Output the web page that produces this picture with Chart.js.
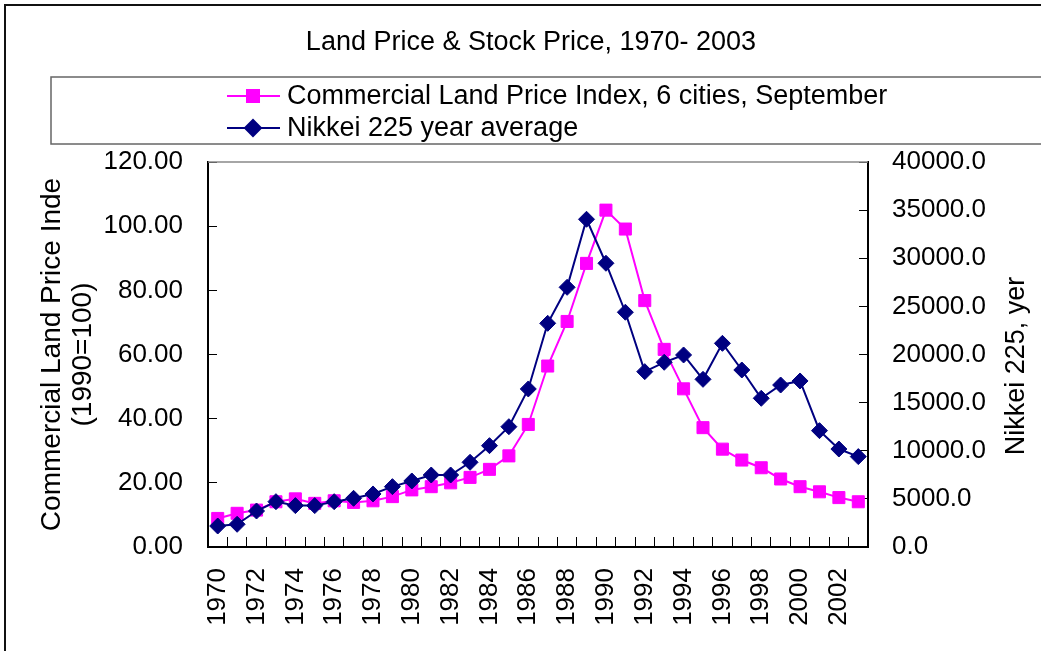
<!DOCTYPE html>
<html>
<head>
<meta charset="utf-8">
<script src="https://cdn.jsdelivr.net/npm/chart.js@4.4.1/dist/chart.umd.min.js"></script>
<style>
  body { margin: 0; background: #fff; }
  #wrap { width: 1041px; height: 651px; position: relative; }
</style>
</head>
<body>
<div id="wrap"><canvas id="landStock"></canvas></div>
<script>
const years = ['1970', '1971', '1972', '1973', '1974', '1975', '1976', '1977', '1978', '1979',
    '1980', '1981', '1982', '1983', '1984', '1985', '1986', '1987', '1988', '1989',
    '1990', '1991', '1992', '1993', '1994', '1995', '1996', '1997', '1998', '1999',
    '2000', '2001', '2002', '2003'];

// Commercial land price index, 6 cities, September (1990=100)
const landIndex = [8.9, 10.5, 11.5, 14.1, 15.0, 13.6, 14.4, 13.9, 14.4, 15.7,
    17.8, 18.8, 20.0, 21.7, 24.2, 28.4, 38.2, 56.4, 70.3, 88.4,
    105.0, 99.1, 76.8, 61.6, 49.3, 37.2, 30.5, 27.1, 24.7, 21.2,
    18.8, 17.2, 15.4, 14.1];

// Nikkei 225 year average, yen
const nikkei = [2180, 2360, 3740, 4710, 4300, 4300, 4710, 5060, 5510, 6270,
    6860, 7480, 7480, 8800, 10530, 12500, 16420, 23240, 26980, 34050,
    29480, 24390, 18220, 19190, 19950, 17420, 21160, 18390, 15450, 16830,
    17250, 12090, 10180, 9390];

const titleText = 'Land Price & Stock Price, 1970- 2003';
const legendLabels = ['Commercial Land Price Index, 6 cities, September', 'Nikkei 225 year average'];
const leftTitle = ['Commercial Land Price Inde', '(1990=100)'];
const rightTitle = 'Nikkei 225, yer';

const FONT = '"Liberation Sans", Arial, sans-serif';
const PINK = '#FF00FF';
const NAVY = '#000080';

// title, legend box, frame and right axis title
const decorations = {
    id: 'decorations',
    afterDraw(chart) {
        const c = chart.ctx;
        const area = chart.chartArea;
        c.save();
        // outer frame
        c.strokeStyle = '#111';
        c.lineWidth = 2;
        c.strokeRect(5, 5, 1200, 1200);

        // chart title
        c.fillStyle = '#000';
        c.font = '27px ' + FONT;
        c.textAlign = 'center';
        c.textBaseline = 'middle';
        c.fillText(titleText, 531, 43);

        // legend
        c.strokeStyle = '#666';
        c.lineWidth = 1.5;
        c.strokeRect(51, 77, 1200, 67);
        const colors = [PINK, NAVY];
        const styles = ['rect', 'rectRot'];
        const rows = [96, 128];
        for (let i = 0; i < 2; i++) {
            c.strokeStyle = colors[i];
            c.lineWidth = 2;
            c.beginPath();
            c.moveTo(227, rows[i]);
            c.lineTo(280, rows[i]);
            c.stroke();
            c.fillStyle = colors[i];
            Chart.helpers.drawPoint(c, {pointStyle: styles[i], radius: i === 0 ? 8.5 : 8, borderWidth: 1}, 253, rows[i]);
            c.fillStyle = '#000';
            c.textAlign = 'left';
            c.font = '27px ' + FONT;
            c.fillText(legendLabels[i], 287, rows[i] + 1);
        }

        // top edge of the plot
        c.strokeStyle = '#888';
        c.lineWidth = 1.5;
        c.beginPath();
        c.moveTo(area.left, area.top);
        c.lineTo(area.right, area.top);
        c.stroke();

        // right axis title
        c.translate(1017, 366);
        c.rotate(-Math.PI / 2);
        c.fillStyle = '#000';
        c.font = '27px ' + FONT;
        c.textAlign = 'center';
        c.fillText(rightTitle, 0, 0);
        c.restore();
    }
};

const ctx_land = document.getElementById('landStock');
new Chart(ctx_land, {
    type: 'line',
    data: {
        labels: years,
        datasets: [
            {
                label: legendLabels[0],
                data: landIndex,
                yAxisID: 'yLand',
                borderColor: PINK,
                backgroundColor: PINK,
                borderWidth: 2,
                pointStyle: 'rect',
                pointRadius: 8.5,
                pointBorderWidth: 1,
                tension: 0,
                order: 1
            },
            {
                label: legendLabels[1],
                data: nikkei,
                yAxisID: 'yNikkei',
                borderColor: NAVY,
                backgroundColor: NAVY,
                borderWidth: 2,
                pointStyle: 'rectRot',
                pointRadius: 8,
                pointBorderWidth: 1,
                tension: 0,
                order: 0
            }
        ]
    },
    options: {
        responsive: true,
        maintainAspectRatio: false,
        animation: false,
        layout: { padding: { top: 162, left: 0, right: 0, bottom: 0 } },
        plugins: {
            legend: { display: false },
            title: { display: false },
            tooltip: { enabled: false }
        },
        scales: {
            x: {
                type: 'category',
                offset: true,
                grid: {
                    offset: true,
                    drawOnChartArea: false,
                    drawTicks: true,
                    tickLength: -10,
                    color: '#000',
                    tickColor: '#000'
                },
                border: { color: '#000', width: 2 },
                ticks: {
                    autoSkip: false,
                    minRotation: 90,
                    maxRotation: 90,
                    padding: 31,
                    color: '#000',
                    font: { family: FONT, size: 26 },
                    callback: (val, i) => (i % 2 === 0 ? years[i] : '')
                },
                afterFit: (scale) => { scale.height = 104; }
            },
            yLand: {
                position: 'left',
                min: 0,
                max: 120,
                grid: {
                    drawOnChartArea: false,
                    tickLength: -9,
                    color: '#000',
                    tickColor: '#000'
                },
                border: { color: '#000', width: 2 },
                ticks: {
                    stepSize: 20,
                    padding: 34,
                    color: '#000',
                    font: { family: FONT, size: 26 },
                    callback: (v) => v.toFixed(2)
                },
                title: {
                    display: true,
                    text: leftTitle,
                    color: '#000',
                    padding: { top: 37, bottom: 0 },
                    font: { family: FONT, size: 28, lineHeight: 1.1 }
                },
                afterFit: (scale) => { scale.width = 208; }
            },
            yNikkei: {
                position: 'right',
                min: 0,
                max: 40000,
                grid: {
                    drawOnChartArea: false,
                    tickLength: -9,
                    color: '#000',
                    tickColor: '#000'
                },
                border: { color: '#000', width: 2 },
                ticks: {
                    stepSize: 5000,
                    padding: 33,
                    color: '#000',
                    font: { family: FONT, size: 26 },
                    callback: (v) => v.toFixed(1)
                },
                afterFit: (scale) => { scale.width = 173; }
            }
        }
    },
    plugins: [decorations]
});
</script>
</body>
</html>
